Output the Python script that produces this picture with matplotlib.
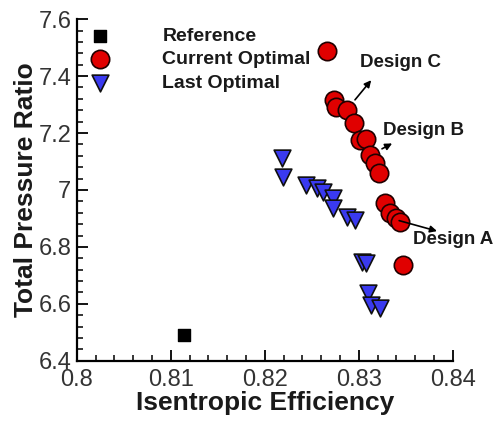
import matplotlib
matplotlib.use('Agg')
import matplotlib.pyplot as plt
from matplotlib.ticker import MultipleLocator, FormatStrFormatter

plt.rcParams['font.family'] = ['Liberation Sans', 'DejaVu Sans']

# data
ref_eff = [0.8114]
ref_pr = [6.49]

cur_eff = [0.8266, 0.8274, 0.8276, 0.8287, 0.8295, 0.8301, 0.8308, 0.8312,
           0.8317, 0.8321, 0.8328, 0.8333, 0.8339, 0.8344, 0.8347]
cur_pr = [7.488, 7.316, 7.292, 7.280, 7.236, 7.175, 7.180, 7.123,
          7.095, 7.060, 6.954, 6.920, 6.900, 6.889, 6.737]

last_eff = [0.8218, 0.8219, 0.8244, 0.8255, 0.8262, 0.8273, 0.8273, 0.8287,
            0.8296, 0.8303, 0.8308, 0.8310, 0.8313, 0.8322]
last_pr = [7.111, 7.047, 7.017, 7.007, 6.994, 6.972, 6.937, 6.906,
           6.895, 6.748, 6.743, 6.638, 6.597, 6.585]

# annotations: label, text position, arrow tail, arrow head
designs = ['Design C', 'Design B', 'Design A']
text_xy = [(0.8301, 7.446), (0.8326, 7.21), (0.8358, 6.825)]
tail_xy = [(0.8294, 7.309), (0.8322, 7.140), (0.8340, 6.895)]
head_xy = [(0.8315, 7.393), (0.8338, 7.168), (0.8386, 6.853)]

fig = plt.figure(figsize=(4.96, 4.25), dpi=100)
ax = fig.add_axes([0.155, 0.151, 0.758, 0.804])

ax.scatter(ref_eff, ref_pr, marker='s', s=70, c='black', edgecolors='black',
           label='Reference', zorder=3)
ax.scatter(cur_eff, cur_pr, marker='o', s=175, c='#e00000', edgecolors='#200000',
           linewidths=1.2, label='Current Optimal', zorder=3)
ax.scatter(last_eff, last_pr, marker='v', s=145, c='#3a3af0', edgecolors='#101010',
           linewidths=1.2, label='Last Optimal', zorder=3)

for name, txt, tail, head in zip(designs, text_xy, tail_xy, head_xy):
    ax.annotate('', xy=head, xytext=tail,
                arrowprops=dict(arrowstyle='-|>', color='black', lw=1.2,
                                mutation_scale=10), zorder=4)
    ax.text(txt[0], txt[1], name, fontsize=13.5, fontweight='bold',
            va='center', ha='left', color='#1a1a1a', clip_on=False)

ax.set_xlim(0.8, 0.84)
ax.set_ylim(6.4, 7.6)
ax.xaxis.set_major_locator(MultipleLocator(0.01))
ax.xaxis.set_minor_locator(MultipleLocator(0.002))
ax.yaxis.set_major_locator(MultipleLocator(0.2))
ax.yaxis.set_minor_locator(MultipleLocator(0.04))
ax.xaxis.set_major_formatter(FormatStrFormatter('%g'))
ax.yaxis.set_major_formatter(FormatStrFormatter('%g'))

for s in ['top', 'right']:
    ax.spines[s].set_visible(False)
for s in ['left', 'bottom']:
    ax.spines[s].set_linewidth(1.6)

ax.tick_params(which='major', direction='in', length=8, width=1.3,
               labelsize=17, labelcolor='#333333')
ax.tick_params(axis='x', which='major', pad=6)
ax.tick_params(axis='y', which='major', pad=4)
ax.tick_params(which='minor', direction='in', length=4, width=1.1)

ax.set_xlabel('Isentropic Efficiency', fontsize=19, fontweight='bold',
              color='#1a1a1a', labelpad=0)
ax.set_ylabel('Total Pressure Ratio', fontsize=19, fontweight='bold',
              color='#1a1a1a', labelpad=0)

leg = ax.legend(loc='upper left', bbox_to_anchor=(0.005, 1.01), frameon=False,
                prop={'weight': 'bold', 'size': 14},
                handlelength=1.0, handletextpad=2.7, labelspacing=0.3,
                borderaxespad=0.2)
for t in leg.get_texts():
    t.set_color('#1a1a1a')

fig.savefig('out.png', dpi=100)
